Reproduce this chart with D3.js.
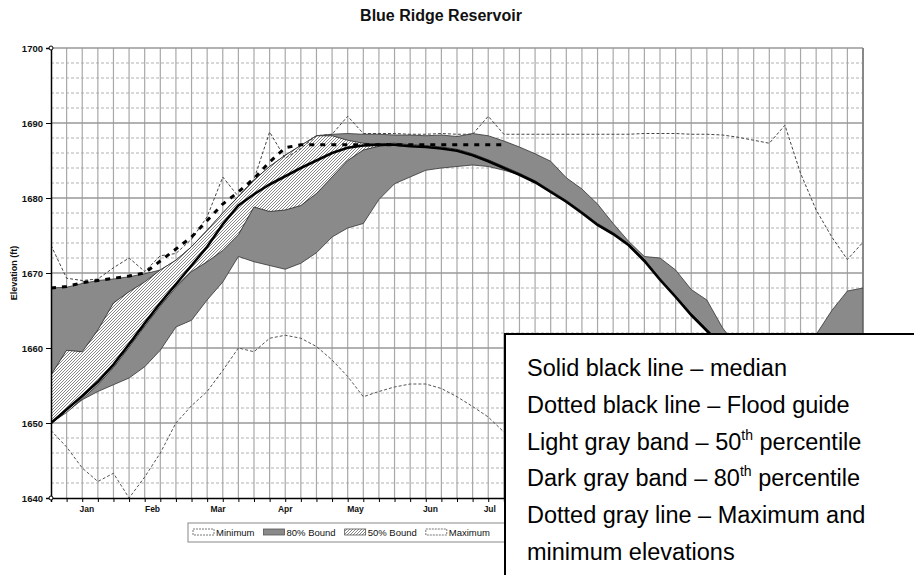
<!DOCTYPE html>
<html><head><meta charset="utf-8">
<script src="https://cdn.jsdelivr.net/npm/d3@7/dist/d3.min.js"></script>
<style>
body{margin:0;background:#fff}
svg{display:block;font-family:Arial,"Liberation Sans",sans-serif}
</style>
</head><body>
<svg id="chart" width="914" height="575"></svg>
<script>
// ---------- DATA (weekly values, week 0 = 1 Jan ... week 52 = 31 Dec) ----------
const title = "Blue Ridge Reservoir";
const yLabel = "Elevation (ft)";
const months = ["Jan","Feb","Mar","Apr","May","Jun","Jul","Aug","Sep","Oct","Nov","Dec"];
const monthWeek = [2.3,6.5,10.7,15.0,19.5,24.3,28.1,32.6,37.0,41.3,45.7,50.0];
const yTicks = [1640,1650,1660,1670,1680,1690,1700];

const median = [1650,1651.8,1653.6,1655.5,1657.8,1660.5,1663.3,1666,1668.5,1671,
  1673.5,1676.5,1679,1680.5,1681.8,1682.9,1684,1685,1686,1686.7,
  1687,1687.1,1687.1,1686.9,1686.8,1686.6,1686.3,1685.7,1684.9,1684.0,
  1683.1,1682.1,1680.8,1679.5,1678.0,1676.4,1675.2,1673.7,1671.6,1669.1,
  1666.8,1664.4,1662.3,1660.2,1658.3,1656.5,1655,1653.7,1652.6,1651.7,
  1651,1650.4,1650];

const bound80Low = [1650,1651.5,1653.1,1654.2,1655.1,1656,1657.5,1659.7,1662.8,1663.7,
  1666.4,1668.8,1672.2,1671.5,1671,1670.5,1671.3,1672.7,1674.8,1676,
  1676.6,1679.8,1681.9,1682.8,1683.7,1684,1684.2,1684.4,1684.2,1683.7,
  1683.1,1682.1,1680.8,1679.5,1678.0,1676.4,1675.2,1673.7,1671.6,1669.1,
  1666.8,1664.4,1662.3,1660.2,1658.3,1656.5,1655,1653.7,1652.6,1651.7,
  1651,1650.4,1650];

const bound80High = [1668,1668.1,1668.6,1669,1669.2,1669.5,1669.9,1670.4,1671.7,1673.5,
  1675.7,1678,1680.2,1682.4,1684.2,1685.7,1687,1688.3,1688.5,1688.6,
  1688.5,1688.5,1688.4,1688.4,1688.3,1688.4,1688.2,1688.6,1688.3,1687.6,
  1686.8,1685.9,1684.9,1682.7,1681.2,1679.2,1676.6,1674.2,1672.2,1672,
  1670.4,1667.8,1666.4,1662.7,1660,1657.5,1656,1656,1658,1661.8,
  1665,1667.6,1668];

const bound50Low = [1650,1651.4,1653.2,1655.1,1657.4,1660.1,1662.9,1665.6,1668.1,1670.2,
  1671.5,1673,1675.1,1678.8,1678.2,1678.4,1679,1680.6,1682.8,1685,
  1686.4,1686.9,1687.1,1686.9,1686.8,1686.6,1686.3,1685.7,1684.9,1684.0,
  1683.1,1682.1,1680.8,1679.5,1678.0,1676.4,1675.2,1673.7,1671.6,1669.1,
  1666.8,1664.4,1662.3,1660.2,1658.3,1656.5,1655,1653.7,1652.6,1651.7,
  1651,1650.4,1650];

const bound50High = [1656.4,1659.7,1659.5,1662.4,1666,1667.5,1668.8,1670.4,1671.7,1673.5,
  1675.7,1678,1680.2,1682.4,1684.2,1685.7,1687,1688.3,1688.3,1687.7,
  1687.3,1687.2,1687.3,1687.1,1687.0,1686.8,1686.5,1685.9,1685.1,1684.2,
  1683.3,1682.3,1681.0,1679.7,1678.2,1676.6,1675.4,1673.9,1671.8,1669.3,
  1667.0,1664.6,1662.5,1660.4,1658.5,1656.7,1655.2,1653.9,1652.8,1651.9,
  1651.2,1650.6,1650.2];

const maximum = [1673.7,1669.3,1669,1669.2,1670.7,1672,1670.2,1672.3,1672.6,1674.5,
  1677.5,1682.8,1680.2,1682.5,1688.8,1685.3,1686.6,1688.3,1688.5,1690.9,
  1688.6,1688.6,1688.6,1688.5,1688.5,1688.6,1688.5,1688.5,1690.9,1688.5,
  1688.5,1688.5,1688.5,1688.5,1688.5,1688.5,1688.5,1688.5,1688.6,1688.6,
  1688.6,1688.5,1688.5,1688.4,1688.1,1687.7,1687.3,1689.7,1683.3,1678.4,
  1674.8,1671.8,1674.1];

const minimum = [1649,1646.8,1644,1642.2,1643.3,1640,1642.8,1646,1650,1652.3,
  1654.2,1657,1660,1659.5,1661.3,1661.7,1661.3,1660.2,1658.4,1656.2,
  1653.5,1654.2,1654.8,1655.2,1655.2,1654.6,1653.5,1652.2,1650.8,1648.8,
  1647.5,1646.5,1645.5,1645,1644.5,1644,1643.5,1643.5,1643.5,1643.5,
  1643.5,1644,1644.5,1645,1645.5,1646,1646.5,1647,1647.5,1648,
  1648.5,1648.8,1649];

const floodGuide = [1668,1668.2,1668.7,1669,1669.3,1669.6,1670,1671.6,1673.2,1674.8,
  1677,1679.2,1680.8,1682.6,1684.8,1686.7,1687.1,1687.1,1687.1,1687.1,
  1687.1,1687.1,1687.1,1687.1,1687.1,1687.1,1687.1,1687.1,1687.1,1687.1];

const legendNames = ["Minimum","80% Bound","50% Bound","Maximum"];
const noteLines = [
  ["Solid black line \u2013 median"],
  ["Dotted black line \u2013 Flood guide"],
  ["Light gray band \u2013 50","th"," percentile"],
  ["Dark gray band \u2013 80","th"," percentile"],
  ["Dotted gray line \u2013 Maximum and"],
  ["minimum elevations"]
];

// ---------- LAYOUT ----------
const svg = d3.select("#chart");
const L = 51, R = 863, T = 48, B = 498;
const boxX = 505, boxY = 334;
const x = d3.scaleLinear().domain([0,52]).range([L,R]);
const y = d3.scaleLinear().domain([1640,1700]).range([B,T]);
const weeks = d3.range(53);

const defs = svg.append("defs");
const ph = defs.append("pattern").attr("id","hatch").attr("width",3).attr("height",3)
  .attr("patternUnits","userSpaceOnUse");
ph.append("rect").attr("width",3).attr("height",3).attr("fill","#fff");
ph.append("path").attr("d","M-0.75,0.75 l1.5,-1.5 M0,3 l3,-3 M2.25,3.75 l1.5,-1.5")
  .attr("stroke","#555").attr("stroke-width",0.7);
const clip = defs.append("clipPath").attr("id","plotclip");
clip.append("rect").attr("x",L).attr("y",T).attr("width",R-L).attr("height",B-T);
const darkFill = "#8a8a8a";

// title
svg.append("text").attr("x",441).attr("y",21).attr("text-anchor","middle")
  .attr("font-size",16).attr("font-weight","bold").attr("fill","#111").text(title);

// grid
const g = svg.append("g");
const minorY = d3.range(1642,1700,2).filter(v => v % 10 !== 0);
g.selectAll(".mg").data(minorY).join("line")
  .attr("x1",L).attr("x2",R).attr("y1",d=>y(d)).attr("y2",d=>y(d))
  .attr("stroke","#a8a8a8").attr("stroke-width",0.9).attr("stroke-dasharray","3,2");
g.selectAll(".vg").data(weeks.slice(1)).join("line")
  .attr("x1",d=>x(d)).attr("x2",d=>x(d)).attr("y1",T).attr("y2",B)
  .attr("stroke","#a8a8a8").attr("stroke-width",1.2);
g.selectAll(".Mg").data(yTicks.slice(1)).join("line")
  .attr("x1",L).attr("x2",R).attr("y1",d=>y(d)).attr("y2",d=>y(d))
  .attr("stroke","#999").attr("stroke-width",1.6);
g.append("line").attr("x1",R).attr("x2",R).attr("y1",T).attr("y2",B)
  .attr("stroke","#888").attr("stroke-width",2);

// bands
const plot = svg.append("g").attr("clip-path","url(#plotclip)");
const area = (lo,hi) => d3.area().x((d,i)=>x(i)).y0((d,i)=>y(lo[i])).y1((d,i)=>y(hi[i]))(weeks);
plot.append("path").attr("d",area(bound80Low,bound80High))
  .attr("fill",darkFill).attr("stroke","#333").attr("stroke-width",0.8);
plot.append("path").attr("d",area(bound50Low,bound50High))
  .attr("fill","url(#hatch)").attr("stroke","#222").attr("stroke-width",0.8);

const line = arr => d3.line().x((d,i)=>x(i)).y(d=>y(d))(arr);
plot.append("path").attr("d",line(minimum)).attr("fill","none")
  .attr("stroke","#555").attr("stroke-width",1).attr("stroke-dasharray","3,2");
plot.append("path").attr("d",line(maximum)).attr("fill","none")
  .attr("stroke","#444").attr("stroke-width",1).attr("stroke-dasharray","3,2");
plot.append("path").attr("d",line(median)).attr("fill","none")
  .attr("stroke","#000").attr("stroke-width",2.6);
plot.append("path").attr("d",line(floodGuide)).attr("fill","none")
  .attr("stroke","#000").attr("stroke-width",3).attr("stroke-dasharray","5,6");

// axes
const ya = svg.append("g").attr("transform",`translate(${L},0)`)
  .call(d3.axisLeft(y).tickValues(yTicks).tickSize(5).tickFormat(d3.format("d")));
ya.select(".domain").attr("stroke","#000").attr("stroke-width",1.5);
ya.selectAll("text").attr("font-size",9.5).attr("font-weight","bold").attr("fill","#111")
  .attr("font-family","Arial, 'Liberation Sans', sans-serif").attr("x",-8);
const xa = svg.append("g").attr("transform",`translate(0,${B})`)
  .call(d3.axisBottom(x).tickValues(weeks).tickSize(4).tickFormat(""));
xa.select(".domain").attr("stroke","#000").attr("stroke-width",1.5);
// month labels (those falling under the note box are not visible in the original)
const visMonths = months.map((m,i)=>({m, w:monthWeek[i]})).filter(d => x(d.w) < boxX - 10);
svg.selectAll(".mlab").data(visMonths).join("text")
  .attr("x",d=>x(d.w)).attr("y",512).attr("text-anchor","middle")
  .attr("font-size",8.5).attr("font-weight","bold").attr("fill","#111").text(d=>d.m);
[1640,1700].forEach(v=>svg.append("circle").attr("cx",L).attr("cy",y(v)).attr("r",2)
  .attr("fill","#fff").attr("stroke","#000").attr("stroke-width",1));

svg.append("text").attr("transform",`translate(17,273) rotate(-90)`)
  .attr("text-anchor","middle").attr("font-size",9).attr("font-weight","bold")
  .attr("fill","#111").text(yLabel);

// legend
const lg = svg.append("g");
lg.append("rect").attr("x",188).attr("y",523).attr("width",340).attr("height",19)
  .attr("fill","#fff").attr("stroke","#888").attr("stroke-width",1);
const swFill = ["#fff",darkFill,"url(#hatch)","#fff"];
let cx = 193;
legendNames.forEach((n,i)=>{
  lg.append("rect").attr("x",cx).attr("y",529).attr("width",21).attr("height",6)
    .attr("fill",swFill[i]).attr("stroke","#555").attr("stroke-width",0.8)
    .attr("stroke-dasharray",(i===0||i===3)?"2,1":null);
  const t = lg.append("text").attr("x",cx+23).attr("y",536).attr("font-size",9.5)
    .attr("fill","#111").text(n);
  cx += 23 + t.node().getComputedTextLength() + 9;
});

// note box
const nb = svg.append("g");
nb.append("rect").attr("x",boxX).attr("y",boxY).attr("width",420).attr("height",260)
  .attr("fill","#fff").attr("stroke","#000").attr("stroke-width",2);
noteLines.forEach((parts,i)=>{
  const t = nb.append("text").attr("x",527).attr("y",376 + i*36.8)
    .attr("font-size",23.5).attr("fill","#000");
  parts.forEach((p,j)=>{
    const sp = t.append("tspan").text(p);
    if (j===1) sp.attr("font-size",14).attr("dy",-10);
    if (j===2) sp.attr("dy",10);
  });
});
</script>
</body></html>
